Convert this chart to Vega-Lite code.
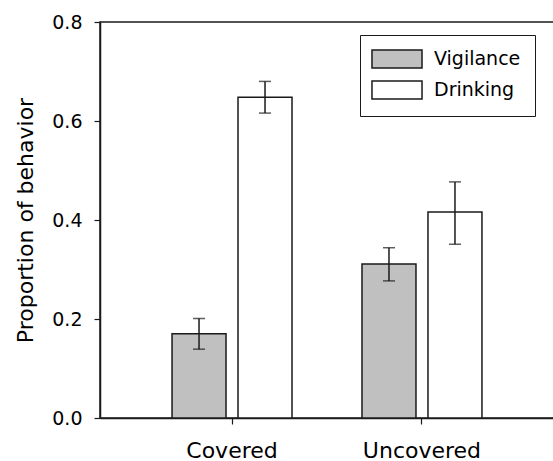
{
  "$schema": "https://vega.github.io/schema/vega-lite/v6.json",
  "width": 454,
  "height": 396,
  "autosize": {"type": "none"},
  "padding": {"left": 100, "top": 22, "right": 0, "bottom": 43},
  "background": "white",
  "config": {
    "font": "DejaVu Sans",
    "view": {"stroke": "#1a1a1a", "strokeWidth": 1.5},
    "axis": {"grid": false, "domainColor": "#1a1a1a", "domainWidth": 1.5, "tickColor": "#1a1a1a", "tickWidth": 1.2, "labelColor": "black", "titleColor": "black", "labelFont": "DejaVu Sans", "titleFont": "DejaVu Sans"}
  },
  "data": {
    "values": [
      {"cond": "Covered", "behavior": "Vigilance", "mean": 0.170, "lo": 0.139, "hi": 0.201},
      {"cond": "Covered", "behavior": "Drinking", "mean": 0.648, "lo": 0.616, "hi": 0.680},
      {"cond": "Uncovered", "behavior": "Vigilance", "mean": 0.311, "lo": 0.277, "hi": 0.344},
      {"cond": "Uncovered", "behavior": "Drinking", "mean": 0.416, "lo": 0.351, "hi": 0.477}
    ]
  },
  "encoding": {
    "x": {
      "field": "cond", "type": "nominal", "sort": ["Covered", "Uncovered"],
      "scale": {"paddingInner": 0, "paddingOuter": 0.195},
      "axis": {"title": null, "labelAngle": 0, "labelFontSize": 22, "tickSize": 6, "labelPadding": 16}
    },
    "xOffset": {
      "field": "behavior", "type": "nominal", "sort": ["Vigilance", "Drinking"],
      "scale": {"paddingInner": 0.1818, "paddingOuter": 0.5303}
    }
  },
  "layer": [
    {
      "mark": {"type": "bar", "stroke": "#1a1a1a", "strokeWidth": 1.5},
      "encoding": {
        "y": {
          "field": "mean", "type": "quantitative",
          "scale": {"domain": [0, 0.8], "nice": false},
          "axis": {"values": [0, 0.2, 0.4, 0.6, 0.8], "format": ".1f", "labelFontSize": 19, "tickSize": 6, "labelPadding": 12, "title": "Proportion of behavior", "titleFontSize": 22, "titleFontWeight": "normal", "titlePadding": 14}
        },
        "fill": {
          "field": "behavior", "type": "nominal",
          "scale": {"domain": ["Vigilance", "Drinking"], "range": ["#c0c0c0", "#ffffff"]},
          "legend": {
            "orient": "none", "legendX": 260, "legendY": 13, "title": null,
            "strokeColor": "#1a1a1a", "padding": 14, "fillColor": "white",
            "symbolType": "M-2.78,-1L2.78,-1L2.78,1L-2.78,1Z", "symbolSize": 324,
            "symbolStrokeColor": "#1a1a1a", "symbolStrokeWidth": 1.5, "symbolOffset": 13,
            "labelOffset": 27, "labelFontSize": 19, "labelColor": "black", "labelFont": "DejaVu Sans",
            "rowPadding": 7
          }
        }
      }
    },
    {
      "mark": {"type": "rule", "color": "#1a1a1a", "strokeWidth": 1.5},
      "encoding": {"y": {"field": "lo", "type": "quantitative"}, "y2": {"field": "hi"}}
    },
    {
      "mark": {"type": "tick", "color": "#1a1a1a", "thickness": 1.5, "size": 12},
      "encoding": {"y": {"field": "lo", "type": "quantitative"}}
    },
    {
      "mark": {"type": "tick", "color": "#1a1a1a", "thickness": 1.5, "size": 12},
      "encoding": {"y": {"field": "hi", "type": "quantitative"}}
    }
  ]
}
